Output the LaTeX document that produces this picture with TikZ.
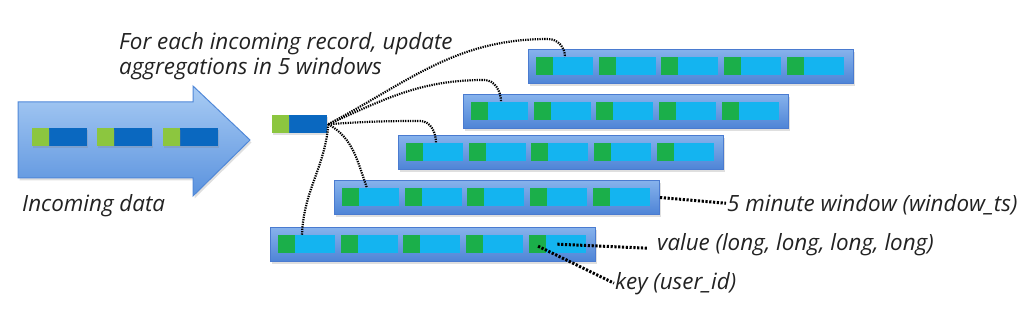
\documentclass[tikz,border=0pt]{standalone}
\usepackage{fontspec}
\setmainfont{Open Sans}
\usetikzlibrary{shadows,calc}
\definecolor{cgreen}{HTML}{1BAF4A}
\definecolor{cblue}{HTML}{14B4F0}
\definecolor{lgreen}{HTML}{8CC63F}
\definecolor{dblue}{HTML}{0A68C0}
\definecolor{winborder}{HTML}{4A7BD0}
\definecolor{wintop}{HTML}{86B2EC}
\definecolor{winbot}{HTML}{4E84D6}
\definecolor{arrtop}{HTML}{A9CCF4}
\definecolor{arrbot}{HTML}{5A92DE}
\definecolor{arrborder}{HTML}{5088D8}
\definecolor{txt}{HTML}{222222}
\tikzset{
  win/.style={draw=winborder, line width=1pt, top color=wintop, bottom color=winbot,
    minimum width=325pt, minimum height=34pt, anchor=north west, inner sep=0pt,
    drop shadow={shadow xshift=1.5pt, shadow yshift=-2.5pt, opacity=0.25}},
  gcell/.style={fill=cgreen, minimum width=17pt, minimum height=18pt, anchor=north west, inner sep=0pt},
  bcell/.style={fill=cblue, minimum width=40pt, minimum height=18pt, anchor=north west, inner sep=0pt},
  recg/.style={fill=lgreen, minimum width=17pt, minimum height=18pt, anchor=north west, inner sep=0pt,
    drop shadow={shadow xshift=1pt, shadow yshift=-1.5pt, opacity=0.25}},
  recb/.style={fill=dblue, minimum width=38pt, minimum height=18pt, anchor=north west, inner sep=0pt,
    drop shadow={shadow xshift=1pt, shadow yshift=-1.5pt, opacity=0.25}},
  conn/.style={draw=black, line width=2.2pt, dash pattern=on 1.3pt off 1.1pt},
  lbl/.style={draw=black, line width=3pt, dash pattern=on 2.2pt off 1.6pt},
  itx/.style={font=\fontsize{22.4}{25}\selectfont\itshape, text=txt, inner sep=0pt}
}
\begin{document}
\begin{tikzpicture}[x=1pt,y=-1pt]
\useasboundingbox (0,0) rectangle (1031,312);
% big arrow
\path[draw=arrborder, line width=1pt, top color=arrtop, bottom color=arrbot,
  drop shadow={shadow xshift=1.5pt, shadow yshift=-2.5pt, opacity=0.25}]
  (18,102) -- (193,102) -- (193,86) -- (250,140) -- (193,196) -- (193,178) -- (18,178) -- cycle;
\foreach \i/\x in {1/32,2/97,3/163}{
  \node[recb] (in\i b) at (\x+17,128) {};
  \node[recg] (in\i g) at (\x,128) {};
}
\node[itx, anchor=base west] (incoming) at (22,212) {Incoming data};
\node[itx, anchor=north west, align=left] (title) at (119,32) {For each incoming record, update\\aggregations in 5 windows};
% single record
\node[recb] (recb) at (289,115) {};
\node[recg] (recg) at (272,115) {};
% windows
\foreach \r/\L/\T in {1/528/49, 2/463/94, 3/398/135, 4/334/180, 5/270/227}{
  \node[win] (w\r) at (\L,\T) {};
  \foreach \k in {0,...,4}{
    \node[gcell] (c\r\k g) at (\L+8+62.6*\k,\T+8) {};
    \node[bcell] (c\r\k b) at (\L+25+62.6*\k,\T+8) {};
  }
}
% connectors
\coordinate (src) at ($(recb.east)+(1,0)$);
\coordinate (t1) at ($(c10b.north west)+(12,0)$);
\coordinate (t2) at ($(c20b.north west)+(13,0)$);
\coordinate (t3) at ($(c30b.north west)+(13,0)$);
\coordinate (t4) at ($(c40b.north west)+(8,0)$);
\coordinate (t5) at ($(c50b.north west)+(7,0)$);
\draw[conn] (src) to[out=28,in=180] (548,39) to[out=0,in=90] (t1);
\draw[conn] (src) to[out=24,in=180] (484,80) to[out=0,in=90] (t2);
\draw[conn] (src) to[out=4,in=180] (420,121) to[out=0,in=90] (t3);
\draw[conn] (src) to[out=-30,in=110] (t4);
\draw[conn] (src) to[out=-95,in=88] (t5);
% labels
\node[itx, anchor=base west] (lw) at (727,212) {5 minute window (window\_ts)};
\node[itx, anchor=base west] (lv) at (657,251) {value (long, long, long, long)};
\node[itx, anchor=base west] (lk) at (615,290) {key (user\_id)};
\coordinate (vsrc) at ($(c54b.west)+(12,0)$);
\coordinate (ksrc) at ($(c54g.center)+(1,2)$);
\draw[lbl] (w4.east) -- ($(lw.west)+(-1,-2)$);
\draw[lbl] (vsrc) -- ($(lv.west)+(-10,3)$);
\draw[lbl] (ksrc) -- ($(lk.west)+(-1,-1)$);
\end{tikzpicture}
\end{document}
